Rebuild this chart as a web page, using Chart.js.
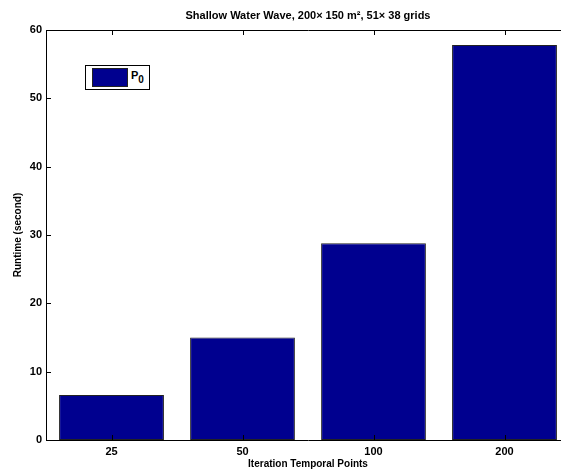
<!DOCTYPE html>
<html>
<head>
<meta charset="utf-8">
<script src="https://cdn.jsdelivr.net/npm/chart.js@4.4.0/dist/chart.umd.min.js"></script>
<style>
  body { margin: 0; overflow: hidden; background: #fff; }
  #wrap { position: relative; width: 561px; height: 470px; overflow: hidden; }
  #legend {
    position: absolute; left: 85px; top: 65px; width: 63px; height: 23px;
    border: 1.5px solid #000; background: #fff;
    font: bold 11px "Liberation Sans", Arial, sans-serif;
  }
  #legend .sw {
    position: absolute; left: 6px; top: 2px; width: 34px; height: 17px;
    background: #00008f; border: 1px solid #222;
  }
  #legend .lbl { position: absolute; left: 45px; top: 3px; }
  #legend sub { font-size: 10px; vertical-align: -4px; }
</style>
</head>
<body>
<div id="wrap">
  <canvas id="chart" width="580" height="470"></canvas>
  <div id="legend"><div class="sw"></div><span class="lbl">P<sub>0</sub></span></div>
</div>
<script>
const categories = ["25", "50", "100", "200"];
const runtime = [6.6, 15.0, 28.8, 57.8];
const yTicks = [0, 10, 20, 30, 40, 50, 60];

const FONT = "'Liberation Sans', Arial, sans-serif";

// MATLAB style box with inward ticks
const framePlugin = {
  id: "frame",
  afterDraw(chart) {
    const { ctx, chartArea: a, scales } = chart;
    ctx.save();
    ctx.strokeStyle = "#000";
    ctx.lineWidth = 1;
    ctx.beginPath();
    ctx.rect(Math.round(a.left) + 0.5, Math.round(a.top) + 0.5,
      Math.round(a.right - a.left), Math.round(a.bottom - a.top));
    yTicks.forEach((v) => {
      const py = Math.round(scales.y.getPixelForValue(v)) + 0.5;
      ctx.moveTo(a.left, py); ctx.lineTo(a.left + 5, py);
      ctx.moveTo(a.right, py); ctx.lineTo(a.right - 5, py);
    });
    categories.forEach((c, i) => {
      const px = Math.round(scales.x.getPixelForValue(i)) + 0.5;
      ctx.moveTo(px, a.bottom); ctx.lineTo(px, a.bottom - 5);
      ctx.moveTo(px, a.top); ctx.lineTo(px, a.top + 5);
    });
    ctx.stroke();
    ctx.restore();
  }
};

new Chart(document.getElementById("chart"), {
  type: "bar",
  data: {
    labels: categories,
    datasets: [{
      label: "P0",
      data: runtime,
      backgroundColor: "#00008f",
      borderColor: "#222",
      borderWidth: 1,
      borderSkipped: false,
      categoryPercentage: 0.8,
      barPercentage: 1.0
    }]
  },
  options: {
    responsive: false,
    animation: false,
    layout: { padding: { left: 0, right: 10, top: 0, bottom: 0 } },
    plugins: {
      legend: { display: false },
      tooltip: { enabled: false },
      title: {
        display: true,
        fullSize: false,
        text: "Shallow Water Wave, 200\u00d7 150 m\u00b2, 51\u00d7 38 grids",
        color: "#000",
        font: { family: FONT, size: 11, weight: "bold" },
        padding: { top: 9, bottom: 7.8 }
      }
    },
    scales: {
      x: {
        grid: { display: false, drawTicks: false },
        border: { display: false },
        ticks: { color: "#000", padding: 5, font: { family: FONT, size: 11, weight: "bold" } },
        title: {
          display: true, text: "Iteration Temporal Points", color: "#000",
          font: { family: FONT, size: 10, weight: "bold" }, padding: { top: 0, bottom: 0 }
        },
        afterFit(s) { s.height = 30; }
      },
      y: {
        min: 0, max: 60,
        grid: { display: false, drawTicks: false },
        border: { display: false },
        ticks: { stepSize: 10, color: "#000", padding: 4, font: { family: FONT, size: 11, weight: "bold" } },
        title: {
          display: true, text: "Runtime (second)", color: "#000",
          font: { family: FONT, size: 10, weight: "bold" }, padding: { top: 12, bottom: 0 }
        },
        afterFit(s) { s.width = 46; }
      }
    }
  },
  plugins: [framePlugin]
});
</script>
</body>
</html>
